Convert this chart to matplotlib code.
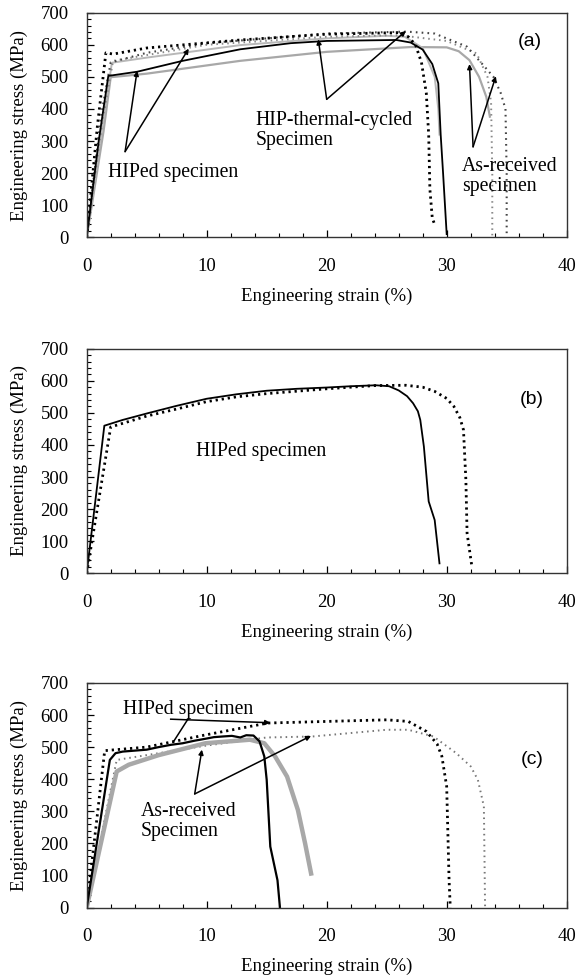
import matplotlib.pyplot as plt
from matplotlib.ticker import MultipleLocator

# ---- panel (a) ----
a_hip_solid_x = [0, 1.0, 1.8, 4.2, 8, 12.8, 17, 20, 25.8, 27, 28, 28.8, 29.3, 29.5, 29.7, 30.0]
a_hip_solid_y = [0, 300, 503, 516, 550, 586, 605, 612, 615, 607, 585, 540, 480, 320, 200, 10]
a_hip_dot_x = [0, 0.9, 1.6, 2.2, 5, 12.8, 20, 26, 26.8, 27.4, 27.9, 28.3, 28.5, 28.6, 28.8, 29.0]
a_hip_dot_y = [0, 350, 575, 571, 590, 615, 633, 638, 625, 600, 545, 450, 320, 150, 60, 40]
a_cyc_gray_x = [0, 1.2, 2.1, 5, 12.8, 20, 25, 26.5, 28, 29, 29.3, 29.4]
a_cyc_gray_y = [0, 320, 544, 560, 599, 620, 628, 625, 590, 500, 400, 320]
a_rec_gray_x = [0, 1.4, 2.0, 5, 12.8, 20, 27, 30, 31, 31.9, 32.7, 33.3, 33.6]
a_rec_gray_y = [0, 330, 499, 510, 550, 578, 593, 592, 580, 552, 500, 438, 376]
a_rec_dot_x = [0, 1.2, 2.0, 5, 10, 20, 26.7, 29, 31.7, 33.2, 33.9, 34.5, 34.9, 35.0, 35.0]
a_rec_dot_y = [0, 380, 545, 575, 605, 635, 641, 635, 594, 530, 500, 450, 400, 200, 0]
a_cyc_dot_x = [0, 1.3, 2.2, 10, 20, 26, 30, 32.5, 33.4, 33.7, 33.8, 33.8]
a_cyc_dot_y = [0, 360, 550, 600, 625, 630, 612, 573, 500, 420, 200, 0]

# ---- panel (b) ----
b_solid_x = [0, 1.47, 3.0, 5.1, 7.5, 10, 12.5, 15, 17.5, 20, 22, 24.1, 25.2, 26.0,
             26.7, 27.2, 27.6, 27.8, 28.1, 28.5, 29.0, 29.4]
b_solid_y = [0, 460, 478, 499, 522, 544, 558, 569, 575, 579, 583, 586, 583, 570,
             552, 530, 505, 478, 395, 224, 166, 31]
b_dot_x = [0, 2.0, 5, 7.5, 10, 12.5, 15, 20, 24, 26.6, 28.0, 29.0, 30.0, 30.6,
           31.1, 31.4, 31.6, 31.7, 32.1]
b_dot_y = [0, 456, 490, 512, 535, 550, 560, 575, 585, 586, 580, 567, 545, 520,
           485, 447, 291, 125, 21]

# ---- panel (c) ----
c_hip_solid_x = [0, 1.93, 2.4, 3.0, 4.0, 5.0, 6.0, 7.0, 8.0, 9.0, 9.9, 10.6, 11.3,
                 12.1, 12.8, 13.3, 13.9, 14.4, 14.8, 15.0, 15.3, 15.9, 16.1]
c_hip_solid_y = [0, 460, 481, 486, 489, 492, 500, 507, 512, 520, 526, 531, 533,
                 535, 530, 537, 536, 518, 471, 398, 190, 85, 2]
c_rec_gray_x = [0, 2.5, 3.5, 6, 9.9, 13.6, 14.8, 15.7, 16.7, 17.6, 18.2, 18.7]
c_rec_gray_y = [0, 424, 445, 475, 512, 523, 512, 471, 408, 304, 200, 106]
c_hip_dot_x = [0, 1.5, 5, 9.9, 15.1, 20, 25, 26.8, 28.3, 29.2, 29.6, 30.0, 30.2, 30.3]
c_hip_dot_y = [0, 489, 500, 538, 575, 580, 585, 580, 549, 510, 471, 377, 85, 0]
c_rec_dot_x = [0, 2.5, 10, 15, 18.8, 25, 26.8, 28.9, 30.8, 32.0, 32.6, 33.1, 33.2]
c_rec_dot_y = [0, 460, 505, 530, 533, 554, 554, 533, 481, 440, 398, 315, 2]

XLABEL = 'Engineering strain (%)'
YLABEL = 'Engineering stress (MPa)'
SERIF = 'Liberation Serif'
FS = 13.5
NOTE_FS = 14.2

GRAY = '#a8a8a8'
HEAVY_DOT = (0, (0.8, 1.4))
FINE_DOT = (0, (0.8, 2.0))


def style_axes(ax, tag, tag_xy):
    ax.set_xlim(0, 40)
    ax.set_ylim(0, 700)
    ax.xaxis.set_major_locator(MultipleLocator(10))
    ax.xaxis.set_minor_locator(MultipleLocator(2))
    ax.yaxis.set_major_locator(MultipleLocator(100))
    ax.yaxis.set_minor_locator(MultipleLocator(20))
    ax.tick_params(which='both', direction='in', top=False, right=False)
    ax.tick_params(which='major', length=5, width=0.9)
    ax.tick_params(which='minor', length=3, width=0.8)
    ax.tick_params(axis='x', which='both', pad=15)
    ax.tick_params(axis='y', which='both', pad=13)
    for lab in ax.get_xticklabels() + ax.get_yticklabels():
        lab.set_fontfamily(SERIF)
        lab.set_fontsize(FS)
    for sp in ax.spines.values():
        sp.set_color('#333333')
        sp.set_linewidth(1.0)
    ax.set_xlabel(XLABEL, family=SERIF, fontsize=FS, labelpad=9)
    ax.set_ylabel(YLABEL, family=SERIF, fontsize=FS, labelpad=9)
    ax.text(tag_xy[0], tag_xy[1], tag, family='Liberation Sans', fontsize=14,
            ha='center', va='center')


def arrow(ax, tail, head):
    ax.annotate('', xy=head, xytext=tail,
                arrowprops=dict(arrowstyle='-|>', color='black', lw=1.1,
                                mutation_scale=7, shrinkA=0, shrinkB=0))


fig = plt.figure(figsize=(5.78, 9.77), dpi=100)
L, W, H = 0.150, 0.8304, 0.2299
ax_a = fig.add_axes([L, 0.7571, W, H])
ax_b = fig.add_axes([L, 0.4132, W, H])
ax_c = fig.add_axes([L, 0.0711, W, H])

# panel (a)
ax_a.plot(a_rec_gray_x, a_rec_gray_y, color=GRAY, lw=1.6)
ax_a.plot(a_cyc_gray_x, a_cyc_gray_y, color='#b8b8b8', lw=1.4)
ax_a.plot(a_cyc_dot_x, a_cyc_dot_y, color='#888888', lw=1.4, ls=FINE_DOT)
ax_a.plot(a_rec_dot_x, a_rec_dot_y, color='#444444', lw=1.5, ls=FINE_DOT)
ax_a.plot(a_hip_dot_x, a_hip_dot_y, color='black', lw=2.0, ls=HEAVY_DOT)
ax_a.plot(a_hip_solid_x, a_hip_solid_y, color='black', lw=1.3)
arrow(ax_a, (3.2, 267), (4.2, 519))
arrow(ax_a, (3.2, 267), (8.5, 588))
arrow(ax_a, (20.0, 430), (19.3, 617))
arrow(ax_a, (20.0, 430), (26.6, 643))
arrow(ax_a, (32.2, 282), (31.9, 540))
arrow(ax_a, (32.2, 282), (34.1, 502))
ax_a.text(1.8, 203, 'HIPed specimen', family=SERIF, fontsize=NOTE_FS, va='center')
ax_a.text(14.1, 332, 'HIP-thermal-cycled\nSpecimen', family=SERIF, fontsize=NOTE_FS,
          va='center', linespacing=1.1)
ax_a.text(31.3, 190, 'As-received\nspecimen', family=SERIF, fontsize=NOTE_FS,
          va='center', linespacing=1.1)
style_axes(ax_a, '(a)', (36.9, 609))

# panel (b)
ax_b.plot(b_dot_x, b_dot_y, color='black', lw=2.0, ls=HEAVY_DOT)
ax_b.plot(b_solid_x, b_solid_y, color='black', lw=1.3)
ax_b.text(9.1, 380, 'HIPed specimen', family=SERIF, fontsize=NOTE_FS, va='center')
style_axes(ax_b, '(b)', (37.1, 541))

# panel (c)
ax_c.plot(c_rec_dot_x, c_rec_dot_y, color='#777777', lw=1.4, ls=FINE_DOT)
ax_c.plot(c_hip_dot_x, c_hip_dot_y, color='black', lw=2.0, ls=HEAVY_DOT)
ax_c.plot(c_rec_gray_x, c_rec_gray_y, color=GRAY, lw=3.2)
ax_c.plot(c_hip_solid_x, c_hip_solid_y, color='black', lw=1.6)
ax_c.plot([7.0, 8.4], [587, 585], color='black', lw=1.1)
ax_c.plot([8.4, 7.2], [585, 515], color='black', lw=1.1)
arrow(ax_c, (8.4, 585), (15.3, 576))
arrow(ax_c, (9.0, 354), (9.6, 492))
arrow(ax_c, (9.0, 354), (18.7, 535))
ax_c.text(3.0, 617, 'HIPed specimen', family=SERIF, fontsize=NOTE_FS, va='center')
ax_c.text(4.5, 268, 'As-received\nSpecimen', family=SERIF, fontsize=NOTE_FS,
          va='center', linespacing=1.1)
style_axes(ax_c, '(c)', (37.1, 460))

fig.savefig('out.png', dpi=100)
